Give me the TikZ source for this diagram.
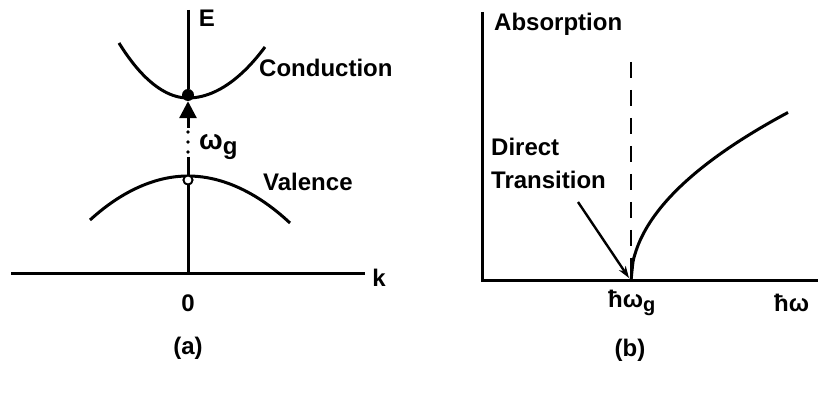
\documentclass[tikz,border=0pt]{standalone}
\usepackage{fontspec}
\setmainfont{Liberation Sans}
\usetikzlibrary{arrows.meta}
\begin{document}
\begin{tikzpicture}[x=1pt,y=-1pt,
  axis/.style={line width=3pt},
  band/.style={line width=3pt},
  lbl/.style={font=\fontsize{24}{28}\selectfont\bfseries, inner sep=0pt},
]
\useasboundingbox (0,0) rectangle (820,398);

% ---------- panel (a) ----------
\coordinate (Etop) at (188,10);
\coordinate (korig) at (188,274);
\coordinate (kL) at (11,274);
\coordinate (kR) at (365,274);
\node[circle, fill, inner sep=0pt, minimum size=12pt] (cb) at (188,95) {};
\node[circle, draw, fill=white, line width=1.8pt, inner sep=0pt, minimum size=9pt] (vb) at (188,180) {};
\coordinate (arrbase) at (188,128);
\coordinate (dotA) at (188,132);
\coordinate (dotB) at (188,157);

\draw[axis] (Etop) -- (cb);
\draw[axis] (vb.south) -- (korig);
\draw[axis] (kL) -- (kR);

% bands
\draw[band] (119,43) parabola bend (188,98) (265,47);
\draw[band] (90,220) parabola bend (188,176) (290,223);

% transition arrow
\draw[line width=3pt, -{Triangle[width=17pt,length=17pt]}] (arrbase) -- (cb.south);
\draw[line width=3.6pt, line cap=round, dash pattern=on 0pt off 10pt] (dotA) -- (dotB);
\draw[line width=3pt] (dotB) -- (vb.north);
\node[circle, draw, fill=white, line width=1.8pt, inner sep=0pt, minimum size=9pt] at (vb) {};

\node[lbl] (E) at (207,18) {E};
\node[lbl] (k) at (379,278) {k};
\node[lbl] (zero) at (188,303) {0};
\node[lbl] (capa) at (188,348) {(a)};
\node[lbl, anchor=west] (cond) at (259,68) {Conduction};
\node[lbl, anchor=west] (val) at (263,182) {Valence};
\node[lbl, anchor=west] (wg) at (199,147) {{\fontsize{28}{28}\selectfont ω}\raisebox{-5pt}{g}};

% ---------- panel (b) ----------
\coordinate (Atop) at (482,12);
\coordinate (O) at (482,281);
\coordinate (Wend) at (818,281);
\coordinate (dtop) at (631,62);
\coordinate (dbot) at (631,279);
\coordinate (tail) at (578,202);
\coordinate (tip) at (629,278);

\draw[axis] (Atop) -- (O) -- (Wend);
\draw[line width=2.8pt, dash pattern=on 16pt off 12pt] (dtop) -- (dbot);
\draw[band] plot[domain=0:157, samples=80, smooth] ({631+\x},{281-13.45*sqrt(\x)});
\draw[line width=2.4pt, -{Stealth[length=12pt,width=8pt]}] (tail) -- (tip);

\node[lbl, anchor=west] (abs) at (494,24) {Absorption};
\node[lbl, anchor=west] (dir) at (491,147) {Direct};
\node[lbl, anchor=west] (tra) at (491,180) {Transition};
\node[lbl, anchor=west] (hwg) at (608,303) {ħω\raisebox{-4pt}{\fontsize{20}{20}\selectfont g}};
\node[lbl, anchor=west] (hw) at (774,303) {ħω};
\node[lbl] (capb) at (630,350) {(b)};
\end{tikzpicture}
\end{document}
